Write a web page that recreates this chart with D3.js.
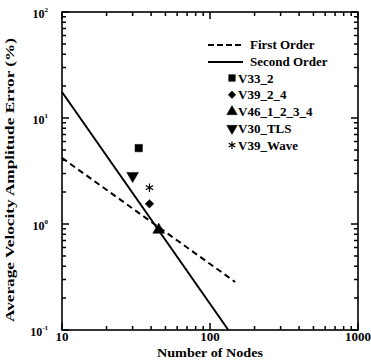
<!DOCTYPE html>
<html>
<head>
<meta charset="utf-8">
<script src="https://cdn.jsdelivr.net/npm/d3@7"></script>
<style>
  body { margin: 0; background: #fff; }
  text { font-family: "Liberation Serif", "Times New Roman", serif; fill: #000; }
</style>
</head>
<body>
<div id="chart"></div>
<script>
// values
const seriesNames = ["V33_2", "V39_2_4", "V46_1_2_3_4", "V30_TLS", "V39_Wave"];
const seriesNodes = [33, 39, 45, 30, 39];
const seriesError = [5.2, 1.55, 0.88, 2.85, 2.2];

const firstOrderNodes = [10, 148];
const firstOrderError = [4.2, 0.284];
const secondOrderNodes = [10, 133];
const secondOrderError = [17.6, 0.1];

const xTicks = [10, 100, 1000];
const yTicks = [0.1, 1, 10, 100];
const yTickExp = ["-1", "0", "1", "2"];

const width = 371, height = 363;
const margin = { left: 62, right: 13, top: 12, bottom: 33 };

const svg = d3.select("#chart").append("svg")
    .attr("width", width)
    .attr("height", height);

const x = d3.scaleLog().domain([10, 1000]).range([margin.left, width - margin.right]);
const y = d3.scaleLog().domain([0.1, 100]).range([height - margin.bottom, margin.top]);
const bottom = height - margin.bottom, right = width - margin.right;

// minor ticks 2..9 per decade
let minorX = [], minorY = [];
[10, 100].forEach(d => { for (let i = 2; i < 10; i++) minorX.push(d * i); });
[0.1, 1, 10].forEach(d => { for (let i = 2; i < 10; i++) minorY.push(d * i); });

// frame
svg.append("rect")
    .attr("x", margin.left).attr("y", margin.top)
    .attr("width", right - margin.left).attr("height", bottom - margin.top)
    .attr("fill", "none").attr("stroke", "#000").attr("stroke-width", 1.6);

// inward ticks on all four sides, one path
const tp = d3.path();
function xt(values, len) {
    values.forEach(d => {
        tp.moveTo(x(d), bottom); tp.lineTo(x(d), bottom - len);
        tp.moveTo(x(d), margin.top); tp.lineTo(x(d), margin.top + len);
    });
}
function yt(values, len) {
    values.forEach(d => {
        tp.moveTo(margin.left, y(d)); tp.lineTo(margin.left + len, y(d));
        tp.moveTo(right, y(d)); tp.lineTo(right - len, y(d));
    });
}
xt(xTicks, 7); xt(minorX, 4);
yt(yTicks, 7); yt(minorY, 4);
svg.append("path").attr("d", tp.toString())
    .attr("fill", "none").attr("stroke", "#000").attr("stroke-width", 1.5);

// tick labels
svg.selectAll(".xlab").data(xTicks).enter().append("text")
    .attr("x", d => x(d)).attr("y", bottom + 11)
    .attr("text-anchor", "middle").attr("font-size", 13).attr("font-weight", "bold")
    .text(d => d);

const ylab = svg.selectAll(".ylab").data(yTicks).enter().append("text")
    .attr("x", margin.left - 14).attr("y", d => y(d) + 6)
    .attr("text-anchor", "end").attr("font-size", 12).attr("font-weight", "bold");
ylab.append("tspan").text("10");
ylab.append("tspan").attr("dy", -6).attr("font-size", 7).text((d, i) => yTickExp[i]);

// axis titles
svg.append("text")
    .attr("x", (margin.left + right) / 2).attr("y", 357)
    .attr("text-anchor", "middle").attr("font-size", 13).attr("font-weight", "bold")
    .attr("textLength", 106).attr("lengthAdjust", "spacingAndGlyphs")
    .text("Number of Nodes");

svg.append("text")
    .attr("transform", `translate(14,180) rotate(-90)`)
    .attr("text-anchor", "middle").attr("font-size", 13).attr("font-weight", "bold")
    .attr("textLength", 284).attr("lengthAdjust", "spacingAndGlyphs")
    .text("Average Velocity Amplitude Error (%)");

// order lines
const line = d3.line().x(d => x(d[0])).y(d => y(d[1]));
svg.append("path")
    .attr("d", line(d3.zip(firstOrderNodes, firstOrderError)))
    .attr("fill", "none").attr("stroke", "#000").attr("stroke-width", 2)
    .attr("stroke-dasharray", "6,4");
svg.append("path")
    .attr("d", line(d3.zip(secondOrderNodes, secondOrderError)))
    .attr("fill", "none").attr("stroke", "#000").attr("stroke-width", 2);

// markers
const shapes = [d3.symbolSquare, d3.symbolSquare, d3.symbolTriangle, d3.symbolTriangle, d3.symbolAsterisk];
const rotations = [0, 45, 0, 180, 0];
const sizes = [55, 36, 60, 60, 50];

function marker(g, i, s) {
    g.append("path")
        .attr("d", d3.symbol().type(shapes[i]).size(sizes[i] * s)())
        .attr("transform", `rotate(${rotations[i]})`)
        .attr("fill", i == 4 ? "none" : "#000")
        .attr("stroke", "#000").attr("stroke-width", i == 4 ? 1.2 : 0.5);
}

seriesNames.forEach((name, i) => {
    const g = svg.append("g")
        .attr("transform", `translate(${x(seriesNodes[i])},${y(seriesError[i])})`);
    marker(g, i, 1);
});

// legend
const legend = svg.append("g").attr("font-size", 13).attr("font-weight", "bold");
legend.append("line").attr("x1", 208).attr("x2", 242).attr("y1", 45).attr("y2", 45)
    .attr("stroke", "#000").attr("stroke-width", 2).attr("stroke-dasharray", "6,3");
legend.append("text").attr("x", 250).attr("y", 49).text("First Order");
legend.append("line").attr("x1", 208).attr("x2", 243).attr("y1", 62).attr("y2", 62)
    .attr("stroke", "#000").attr("stroke-width", 2);
legend.append("text").attr("x", 250).attr("y", 66).text("Second Order");

seriesNames.forEach((name, i) => {
    const ly = 78 + i * 16.8;
    const g = legend.append("g").attr("transform", `translate(232,${ly})`);
    marker(g, i, 0.8);
    legend.append("text").attr("x", 238).attr("y", ly + 4.5).text(name);
});
</script>
</body>
</html>
